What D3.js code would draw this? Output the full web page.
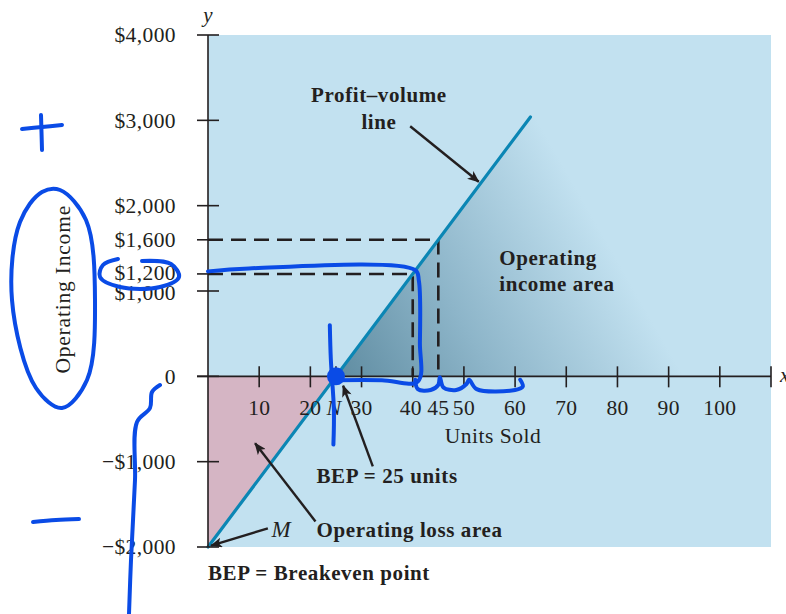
<!DOCTYPE html>
<html><head><meta charset="utf-8">
<script src="https://cdn.jsdelivr.net/npm/d3@7"></script>
<style>
body{margin:0;background:#fff;}
svg{display:block;}
text{font-family:"Liberation Serif","Times New Roman",serif;fill:#231f20;}
</style></head>
<body><svg id="c" width="786" height="614"></svg>
<script>
// ---- data ----
const fixedCost = 2000;          // operating loss at 0 units
const unitMargin = 80;           // contribution margin per unit
const breakevenUnits = 25;
const lineEndUnits = 63;
const yTicks = [4000, 3000, 2000, 1600, 1200, 1000, 0, -1000, -2000];
const yTickLabels = ["$4,000", "$3,000", "$2,000", "$1,600", "$1,200", "$1,000", "0", "\u2212$1,000", "\u2212$2,000"];
const xTicks = [10, 20, 30, 40, 50, 60, 70, 80, 90, 100];
const xTickLabels = ["10", "20", "30", "40", "45", "50", "60", "70", "80", "90", "100"];
const xLabelPositions = [10, 20, 30, 40, 45, 50, 60, 70, 80, 90, 100];
const guideUnits = [45, 40];
const guideIncome = [1600, 1200];

const svg = d3.select("#c");
const x = d3.scaleLinear().domain([0, 110]).range([208, 771]);
const y = d3.scaleLinear().domain([-2000, 4000]).range([547, 35]);
const pv = u => unitMargin * u - fixedCost;
const ink = "#231f20";

// background
svg.append("rect").attr("x", x(0)).attr("y", y(4000))
  .attr("width", x(110) - x(0)).attr("height", y(-2000) - y(4000)).attr("fill", "#c2e1f0");

// loss area
svg.append("path").attr("fill", "#d5b5c4")
  .attr("d", d3.line()([[x(0), y(0)], [x(breakevenUnits), y(0)], [x(0), y(pv(0))]]) + "Z");

// income area with gradient
const defs = svg.append("defs");
const g0 = [x(breakevenUnits), y(0)];
const g1 = [x(breakevenUnits) + 262, y(0) - 150];
const grad = defs.append("linearGradient").attr("id", "inc").attr("gradientUnits", "userSpaceOnUse")
  .attr("x1", g0[0]).attr("y1", g0[1]).attr("x2", g1[0]).attr("y2", g1[1]);
grad.append("stop").attr("offset", 0).attr("stop-color", "#5f8ca1");
grad.append("stop").attr("offset", 0.45).attr("stop-color", "#8db5c9");
grad.append("stop").attr("offset", 1).attr("stop-color", "#c2e1f0");
svg.append("path").attr("fill", "url(#inc)")
  .attr("d", d3.line()([[x(breakevenUnits), y(0)], [x(lineEndUnits), y(pv(lineEndUnits))],
    [x(110), y(pv(lineEndUnits))], [x(110), y(0)]]) + "Z");

// dashed guides
guideUnits.forEach((u, i) => {
  svg.append("path").attr("fill", "none").attr("stroke", ink).attr("stroke-width", 2.6)
    .attr("stroke-dasharray", "15,8")
    .attr("d", d3.line()([[x(0), y(guideIncome[i])], [x(u), y(guideIncome[i])], [x(u), y(0)]]));
});

// profit-volume line
svg.append("line").attr("x1", x(0)).attr("y1", y(pv(0)))
  .attr("x2", x(lineEndUnits)).attr("y2", y(pv(lineEndUnits)))
  .attr("stroke", "#0b86b4").attr("stroke-width", 3.2).attr("stroke-linecap", "round");

// axes
svg.append("line").attr("x1", x(0)).attr("x2", x(0)).attr("y1", y(4000)).attr("y2", y(-2000))
  .attr("stroke", ink).attr("stroke-width", 1.6);
svg.append("line").attr("x1", x(0) - 11).attr("x2", x(110)).attr("y1", y(0)).attr("y2", y(0))
  .attr("stroke", ink).attr("stroke-width", 1.6);

yTicks.forEach((t, i) => {
  const long = !(t === 1600 || t === 1200);
  svg.append("line").attr("x1", x(0) - 11).attr("x2", long ? x(0) + 11 : x(0))
    .attr("y1", y(t)).attr("y2", y(t)).attr("stroke", ink).attr("stroke-width", 1.6);
  const dy = t === 1200 ? "0.28em" : (t === 1000 ? "0.42em" : "0.34em");
  svg.append("text").attr("x", 176).attr("y", y(t)).attr("dy", dy)
    .attr("text-anchor", "end").attr("font-size", 21.5).attr("letter-spacing", 0.4).text(yTickLabels[i]);
});
xTicks.concat([110]).forEach(t => {
  svg.append("line").attr("x1", x(t)).attr("x2", x(t)).attr("y1", y(0) - 10).attr("y2", y(0) + 11)
    .attr("stroke", ink).attr("stroke-width", 1.6);
});
svg.append("line").attr("x1", x(breakevenUnits)).attr("x2", x(breakevenUnits))
  .attr("y1", y(0) - 10).attr("y2", y(0)).attr("stroke", ink).attr("stroke-width", 1.6);
xLabelPositions.forEach((t, i) => {
  svg.append("text").attr("x", x(t) - (t === 40 ? 2 : 0)).attr("y", 415).attr("text-anchor", "middle")
    .attr("font-size", 21.5).attr("letter-spacing", 0.3).text(xTickLabels[i]);
});
svg.append("text").attr("x", x(breakevenUnits) - 2).attr("y", 415).attr("text-anchor", "middle")
  .attr("font-size", 22).attr("font-style", "italic").text("N");
svg.append("text").attr("x", 493).attr("y", 443).attr("text-anchor", "middle")
  .attr("font-size", 21.5).attr("letter-spacing", 0.5).text("Units Sold");
svg.append("text").attr("transform", `translate(70,${y(1020)}) rotate(-90)`).attr("text-anchor", "middle")
  .attr("font-size", 21.5).attr("letter-spacing", 0.8).text("Operating Income");
svg.append("text").attr("x", x(0)).attr("y", 22).attr("text-anchor", "middle")
  .attr("font-size", 21).attr("font-style", "italic").text("y");
svg.append("text").attr("x", 780).attr("y", y(0) + 6).attr("font-size", 21).attr("font-style", "italic").text("x");

// arrows
defs.append("marker").attr("id", "ah").attr("viewBox", "0 0 12 10").attr("refX", 11).attr("refY", 5)
  .attr("markerWidth", 13).attr("markerHeight", 10).attr("markerUnits", "userSpaceOnUse").attr("orient", "auto")
  .append("path").attr("d", "M0,0 L12,5 L0,10 L3,5 Z").attr("fill", ink);
const arrows = [
  {from: [39.5, 2930], to: [52.9, 2280]},
  {from: [32.2, -1055], to: [26.4, -110]},
  {from: [21.0, -1700], to: [9.2, -785]},
  {from: [11.7, -1781], to: [0.6, -1985]}
];
arrows.forEach(a => {
  svg.append("line").attr("x1", x(a.from[0])).attr("y1", y(a.from[1]))
    .attr("x2", x(a.to[0])).attr("y2", y(a.to[1]))
    .attr("stroke", ink).attr("stroke-width", 2.4).attr("marker-end", "url(#ah)");
});

// annotation texts
const notes = [
  {t: "Profit\u2013volume", x: 33.4, y: 3211, anchor: "middle"},
  {t: "line", x: 33.4, y: 2895, anchor: "middle"},
  {t: "Operating", x: 56.9, y: 1301, anchor: "start"},
  {t: "income area", x: 56.9, y: 996, anchor: "start"},
  {t: "BEP = 25 units", x: 21.2, y: -1254, anchor: "start"},
  {t: "Operating loss area", x: 21.2, y: -1887, anchor: "start"},
  {t: "BEP = Breakeven point", x: 0, y: -2390, anchor: "start"}
];
notes.forEach(n => {
  svg.append("text").attr("x", x(n.x)).attr("y", y(n.y)).attr("text-anchor", n.anchor)
    .attr("font-size", 21).attr("font-weight", "bold").attr("letter-spacing", 0.6).text(n.t);
});
svg.append("text").attr("x", x(12.4)).attr("y", y(-1880)).attr("font-size", 23)
  .attr("font-style", "italic").text("M");

// hand-drawn blue pen marks
const pen = "#0a4be6";
const penPath = (pts, closed) => svg.append("path").attr("fill", "none").attr("stroke", pen)
  .attr("stroke-width", 4).attr("stroke-linecap", "round").attr("stroke-linejoin", "round")
  .attr("d", d3.line().curve(closed ? d3.curveCatmullRomClosed : d3.curveCatmullRom)(pts));
penPath([[x(0), y(1230)], [x(8), y(1265)], [x(40.5), y(1245)], [x(41.2), y(1120)], [x(41.4), y(400)],
  [x(41), y(-60)], [x(34), y(-45)], [x(25), y(-45)]]);
penPath([[x(23.8), y(600)], [x(24), y(200)], [x(24.6), y(-400)], [x(24.5), y(-800)]]);
svg.append("circle").attr("cx", x(breakevenUnits)).attr("cy", y(0)).attr("r", 9).attr("fill", pen);
// squiggle under 40–60
penPath([[x(40.5), y(-40)], [x(41), y(-150)], [x(43.5), y(-160)], [x(45), y(-100)], [x(45.3), y(-10)],
  [x(46), y(-130)], [x(48.5), y(-160)], [x(50.5), y(-90)], [x(51), y(-40)], [x(52.5), y(-150)],
  [x(60), y(-160)], [x(61.5), y(-120)], [x(61), y(-40)]]);
// + and − marks
penPath([[22, 129], [42, 127], [62, 125]]);
penPath([[41, 115], [41.5, 132], [42, 150]]);
penPath([[33, 522], [56, 520], [79, 519]]);
// ellipse around the axis title
penPath([[60, 190], [86, 220], [95, 300], [87, 380], [62, 408], [36, 388], [12, 300], [20, 222], [42, 192]], true);
// loop around $1,200
penPath([[118, 259], [103, 265], [100, 277], [120, 287], [160, 287], [179, 277], [171, 264], [142, 261]]);
// brace along the negative axis labels
penPath([[160, 385], [152, 392], [150, 408], [137, 422], [135, 480], [131, 560], [129, 614]]);
</script></body></html>
